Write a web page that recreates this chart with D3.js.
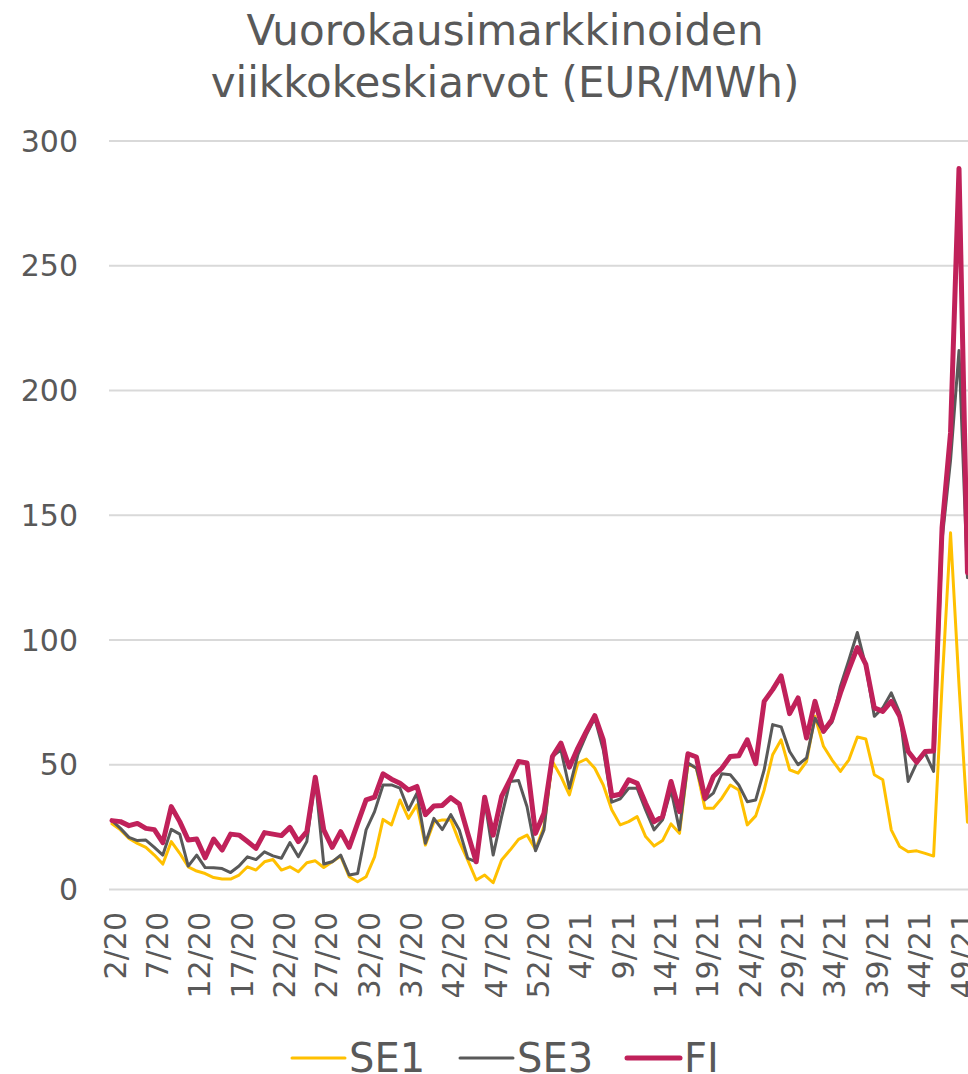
<!DOCTYPE html>
<html>
<head>
<meta charset="utf-8">
<script src="https://cdn.jsdelivr.net/npm/d3@7"></script>
<style>
    body { margin: 0; background: #fff; }
    svg { display: block; font-family: "DejaVu Sans", Verdana, sans-serif; }
</style>
</head>
<body>
<div id="chart"></div>
<script>
// week labels 2/20 .. 50/21 (2020 has 53 weeks)
var weeks = [];
for (var w = 2; w <= 53; w++) weeks.push(w + "/20");
for (var w2 = 1; w2 <= 50; w2++) weeks.push(w2 + "/21");

var yTicks = [0, 50, 100, 150, 200, 250, 300];

var se1 = [26.3, 23.9, 20.5, 18.5, 16.9, 13.8, 10.2, 19.2, 14.5, 9.1,
    7.4, 6.4, 4.8, 4.2, 4.2, 5.8, 9.1, 7.8, 11.1, 12,
    7.8, 9.1, 7.1, 10.7, 11.5, 8.8, 11.1, 13.4, 5.1, 3.1,
    5.1, 13.1, 28.1, 25.9, 35.9, 28.5, 33.9, 17.8, 27, 27.9,
    27.9, 19.2, 11.8, 3.8, 5.8, 2.7, 11.8, 15.8, 20.1, 21.8,
    16, 25.2, 51.3, 45.3, 37.9, 50.7, 52.3, 48.6, 41.9, 32,
    25.9, 27.2, 29.2, 21.2, 17.4, 19.6, 26.3, 22.5, 50.4, 48.6,
    32.6, 32.6, 36.6, 41.9, 39.9, 25.9, 29.5, 39.9, 54, 60,
    48, 46.6, 51.3, 69.4, 57.4, 52, 47.3, 52, 61.1, 60.3,
    46, 44, 23.9, 17.2, 15.1, 15.5, 14.5, 13.4, 82, 143,
    82, 27];

var se3 = [27.6, 24.5, 20.9, 19.6, 19.8, 16.9, 13.8, 24.1, 22.2, 9.4,
    13.8, 8.8, 8.7, 8.4, 6.8, 9.4, 13.1, 12, 15.1, 13.5,
    12.5, 18.8, 13.1, 19.2, 44.5, 10.2, 11.1, 13.8, 5.8, 6.4,
    23.9, 31.2, 41.9, 41.9, 40.6, 31.9, 38.6, 18.5, 28.5, 24,
    30, 23.9, 12.5, 11.1, 35.9, 13.8, 29.2, 43.3, 43.7, 33.2,
    15.5, 23.9, 53.3, 56, 40.6, 54, 62, 68.7, 56, 35,
    36.3, 40.6, 40.6, 31.9, 23.9, 27.9, 39.9, 23.9, 50.7, 48.6,
    35.9, 38.6, 46.4, 46, 41.9, 35.2, 35.9, 48, 66.1, 65.2,
    55.3, 50, 52.7, 68.7, 63, 67, 81.5, 92, 103, 89.5,
    69.4, 72.8, 78.8, 70.8, 43.3, 50.7, 54.7, 47.3, 140, 172,
    216, 125];

var fi = [27.6, 27.2, 25.6, 26.5, 24.5, 24, 18.8, 33.2, 27.2, 19.8,
    20.2, 12.7, 20.2, 15.8, 22.2, 21.8, 19.2, 16.5, 22.8, 22.2,
    21.6, 24.9, 19.2, 23.2, 45, 23.9, 16.9, 23.2, 16.9, 26.5,
    35.9, 37, 46.4, 44.2, 42.6, 39.9, 41.3, 30, 33.5, 33.7,
    36.8, 34.3, 22.5, 11.1, 37, 21.8, 37.3, 44, 51.3, 50.7,
    22.5, 30.6, 53.3, 58.7, 49, 56.7, 63.4, 69.7, 60, 37.5,
    38.2, 44, 42.6, 34.6, 27.2, 29.2, 43.3, 31.2, 54.4, 53.1,
    36.6, 45.3, 48.6, 53.3, 53.6, 60, 50.4, 75.4, 80.1, 85.6,
    70.5, 76.8, 60.7, 75.4, 63.4, 68.1, 78.8, 88.2, 97, 90.2,
    72.8, 71.4, 75.4, 69.4, 55.3, 51, 55.3, 55.5, 145, 183,
    289, 127];

var seriesNames = ["SE1", "SE3", "FI"];
var seriesColors = ["#FFC000", "#595959", "#C0215A"];
var seriesWidths = [3, 3, 5];
var seriesData = [se1, se3, fi];

var W = 968, H = 1074;
var textColor = "#595959";

var svg = d3.select("#chart")
    .append("svg")
    .attr("width", W)
    .attr("height", H);

var x = d3.scalePoint()
    .domain(weeks)
    .range([112, 112 + 8.47 * (weeks.length - 1)]);

var y = d3.scaleLinear()
    .domain([0, 300])
    .range([889.5, 141]);

/* title */
var title = svg.append("text")
    .attr("text-anchor", "middle")
    .attr("fill", textColor)
    .style("font-size", "42px");
title.append("tspan").attr("x", 505).attr("y", 45).text("Vuorokausimarkkinoiden");
title.append("tspan").attr("x", 505).attr("y", 97).text("viikkokeskiarvot (EUR/MWh)");

/* grid + y labels */
svg.append("g")
    .selectAll("line")
    .data(yTicks)
    .enter().append("line")
    .attr("x1", 109)
    .attr("x2", W + 10)
    .attr("y1", function (d) { return y(d); })
    .attr("y2", function (d) { return y(d); })
    .attr("stroke", "#d9d9d9")
    .attr("stroke-width", 2);

svg.append("g")
    .selectAll("text")
    .data(yTicks)
    .enter().append("text")
    .attr("x", 78)
    .attr("y", function (d) { return y(d); })
    .attr("text-anchor", "end")
    .attr("dominant-baseline", "central")
    .attr("fill", textColor)
    .style("font-size", "30px")
    .text(function (d) { return d; });

/* x labels, every 5th week */
svg.append("g")
    .selectAll("text")
    .data(weeks.filter(function (d, i) { return i % 5 === 0; }))
    .enter().append("text")
    .attr("transform", function (d) {
        return "translate(" + (x(d) + 3) + "," + 912 + ") rotate(-90)";
    })
    .attr("text-anchor", "end")
    .attr("dominant-baseline", "central")
    .attr("fill", textColor)
    .style("font-size", "30px")
    .text(function (d) { return d; });

/* lines */
var line = d3.line()
    .x(function (d, i) { return x(weeks[i]); })
    .y(function (d) { return y(d); });

seriesData.forEach(function (data, k) {
    svg.append("path")
        .datum(data)
        .attr("d", line)
        .attr("fill", "none")
        .attr("stroke", seriesColors[k])
        .attr("stroke-width", seriesWidths[k])
        .attr("stroke-linejoin", "round")
        .attr("stroke-linecap", "round");
});

/* legend */
var legendX = [292, 460, 627];
var legend = svg.selectAll(".legend")
    .data(seriesNames)
    .enter().append("g")
    .attr("class", "legend")
    .attr("transform", function (d, i) { return "translate(" + legendX[i] + ",1058)"; });

legend.append("line")
    .attr("x1", 0)
    .attr("x2", 53)
    .attr("stroke", function (d, i) { return seriesColors[i]; })
    .attr("stroke-width", function (d, i) { return seriesWidths[i]; })
    .attr("stroke-linecap", "round");

legend.append("text")
    .attr("x", 57)
    .attr("dominant-baseline", "central")
    .attr("fill", textColor)
    .style("font-size", "40px")
    .text(function (d) { return d; });
</script>
</body>
</html>
